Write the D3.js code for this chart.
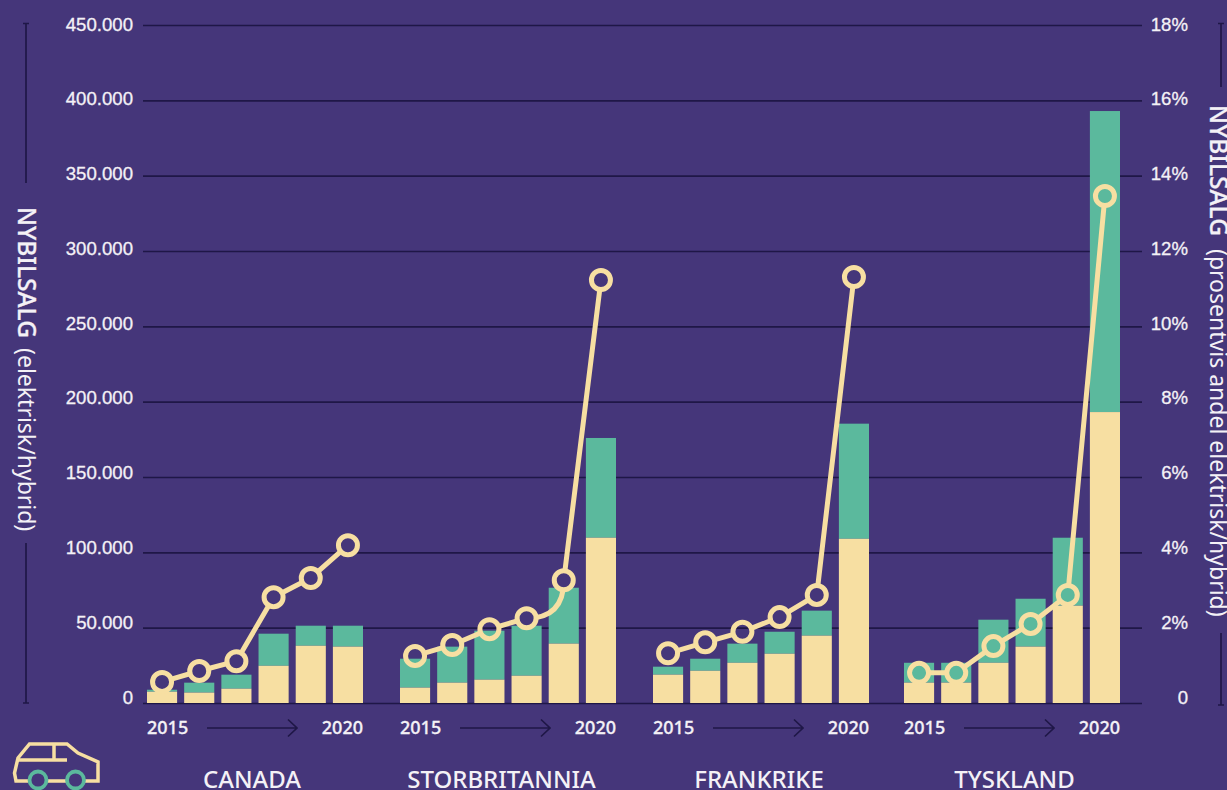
<!DOCTYPE html>
<html>
<head>
<meta charset="utf-8">
<script src="https://cdnjs.cloudflare.com/ajax/libs/d3/7.8.5/d3.min.js"></script>
<style>
	html, body { margin: 0; padding: 0; background: #45367a; overflow: hidden; }
	svg { display: block; font-family: 'Noto Sans', 'Open Sans', sans-serif; }
	text { fill: #f4f1f6; }
	.tick text { font-size: 18.6px; font-weight: 500; stroke: #f4f1f6; stroke-width: 0.3px; }
	.grid line { stroke: #1f1747; stroke-width: 1.6; }
	.rule { stroke: #1f1747; stroke-width: 1.7; fill: none; }
	.year { font-size: 18px; font-weight: 500; stroke: #f4f1f6; stroke-width: 0.3px; }
	.country { font-size: 24px; font-weight: 500; }
	.title { font-size: 24.5px; font-weight: 500; stroke: #f4f1f6; stroke-width: 0.3px; }
	.title tspan + tspan { font-size: 23px; font-weight: 400; stroke: none; }
	.car { fill: none; stroke: #f7dfa2; stroke-width: 3.5; }
</style>
</head>
<body>
<svg id="chart"></svg>
<script>
const countries = ['CANADA', 'STORBRITANNIA', 'FRANKRIKE', 'TYSKLAND']
const years = [2015, 2016, 2017, 2018, 2019, 2020]
const salesTicks = [0, 50000, 100000, 150000, 200000, 250000, 300000, 350000, 400000, 450000]
const shareTicks = [0, 2, 4, 6, 8, 10, 12, 14, 16, 18]

// cream part of each bar
const creamCanada = [7500, 6900, 9500, 24700, 38000, 37400]
const creamBritain = [10200, 13500, 15500, 18100, 39400, 109700]
const creamFrance = [18800, 21400, 26700, 32700, 44700, 109000]
const creamGermany = [13500, 13500, 26700, 37400, 64600, 193100]

// green part on top
const greenCanada = [1300, 6600, 9300, 21300, 13300, 13900]
const greenBritain = [19200, 23900, 32500, 33200, 37100, 66200]
const greenFrance = [5300, 8000, 12700, 14600, 16600, 76400]
const greenGermany = [13200, 13200, 28600, 31800, 45100, 199800]

// share of new car sales, percent
const shareCanada = [0.56, 0.85, 1.11, 2.81, 3.32, 4.19]
const shareBritain = [1.25, 1.54, 1.96, 2.25, 3.26, 11.23]
const shareFrance = [1.32, 1.61, 1.89, 2.28, 2.87, 11.31]
const shareGermany = [0.8, 0.8, 1.51, 2.1, 2.87, 13.46]

const cream = [creamCanada, creamBritain, creamFrance, creamGermany]
const green = [greenCanada, greenBritain, greenFrance, greenGermany]
const share = [shareCanada, shareBritain, shareFrance, shareGermany]

// the british line bends into this year, the others run straight
const bendInto = [null, 2019, null, null]

const WIDTH = 1227
const HEIGHT = 790
const COLOR_CREAM = '#f7dfa2'
const COLOR_GREEN = '#5bb99d'
const PANEL_WIDTH = 216

const svg = d3.select('#chart').attr('width', WIDTH).attr('height', HEIGHT)

const scale = {}
scale.sales = d3.scaleLinear().domain([0, 450000]).range([703, 25])
scale.share = d3.scaleLinear().domain([0, 18]).range([703, 25])
// tick labels sit a little tighter than the grid lines
scale.salesLabel = d3.scaleLinear().domain([0, 450000]).range([696.5, 23.5])
scale.shareLabel = d3.scaleLinear().domain([0, 18]).range([696.5, 23.5])
scale.panel = d3.scaleOrdinal().domain(countries).range([147, 400, 653, 904])
scale.label = d3.scaleOrdinal().domain(countries).range([252, 501.5, 759, 1014.5])
scale.year = d3.scaleBand().domain(years).range([0, PANEL_WIDTH]).paddingInner(0.19)

const thousands = d3.formatLocale({ decimal: ',', thousands: '.', grouping: [3], currency: ['', ''] }).format(',')

function setupAxes() {
	svg.append('g')
		.attr('class', 'grid')
		.attr('transform', 'translate(143, 0)')
		.call(d3.axisRight(scale.sales).tickValues(salesTicks).tickSize(999).tickFormat(''))
		.call(g => g.select('.domain').remove())

	svg.append('g')
		.attr('transform', 'translate(133, 0)')
		.call(d3.axisLeft(scale.salesLabel).tickValues(salesTicks).tickSize(0).tickPadding(0).tickFormat(thousands))
		.call(g => g.select('.domain').remove())
		.call(g => g.selectAll('text').attr('dy', '0.35em'))

	svg.append('g')
		.attr('transform', 'translate(1188, 0)')
		.call(d3.axisLeft(scale.shareLabel).tickValues(shareTicks).tickSize(0).tickPadding(0).tickFormat(d => d ? `${d}%` : '0'))
		.call(g => g.select('.domain').remove())
		.call(g => g.selectAll('text').attr('dy', '0.35em'))
}

function setupTitles() {
	const left = svg.append('text')
		.attr('class', 'title')
		.attr('transform', 'translate(18, 207) rotate(90)')
	left.append('tspan').text('NYBILSALG')
	left.append('tspan').attr('dx', 10).text('(elektrisk/hybrid)')

	const right = svg.append('text')
		.attr('class', 'title')
		.attr('transform', 'translate(1210, 105) rotate(90)')
	right.append('tspan').text('NYBILSALG')
	right.append('tspan').attr('dx', 13).text('(prosentvis andel elektrisk/hybrid)')

	// rules that run on from the axis titles
	const rules = [
		'M23,23.5H29M26,23.5V183',
		'M26,543V703M23,703H29',
		'M1218,23.5H1224M1221,23.5V87',
		'M1221,633V705M1218,705H1224'
	]
	svg.selectAll('.rule-title').data(rules).enter().append('path')
		.attr('class', 'rule rule-title')
		.attr('d', d => d)
}

function setupPanel(name, i) {
	const panel = svg.append('g')
		.attr('class', 'panel')
		.attr('transform', `translate(${scale.panel(name)}, 0)`)

	const rows = years.map((year, j) => ({
		year,
		cream: cream[i][j],
		green: green[i][j],
		share: share[i][j]
	}))

	const bar = panel.selectAll('.bar').data(rows).enter().append('g').attr('class', 'bar')

	bar.append('rect')
		.attr('x', d => scale.year(d.year))
		.attr('width', scale.year.bandwidth())
		.attr('y', d => scale.sales(d.cream + d.green))
		.attr('height', d => scale.sales(d.cream) - scale.sales(d.cream + d.green))
		.attr('fill', COLOR_GREEN)

	bar.append('rect')
		.attr('x', d => scale.year(d.year))
		.attr('width', scale.year.bandwidth())
		.attr('y', d => scale.sales(d.cream))
		.attr('height', d => scale.sales(0) - scale.sales(d.cream))
		.attr('fill', COLOR_CREAM)

	const cx = d => scale.year(d.year) + scale.year.bandwidth() / 2
	const cy = d => scale.share(d.share)

	// the line stops at the rings, they stay hollow
	const maskId = `rings-${i}`
	const mask = panel.append('mask')
		.attr('id', maskId)
		.attr('maskUnits', 'userSpaceOnUse')
		.attr('x', -20).attr('y', 0)
		.attr('width', PANEL_WIDTH + 40).attr('height', HEIGHT)
	mask.append('rect')
		.attr('x', -20).attr('y', 0)
		.attr('width', PANEL_WIDTH + 40).attr('height', HEIGHT)
		.attr('fill', '#fff')
	mask.selectAll('circle').data(rows).enter().append('circle')
		.attr('cx', cx).attr('cy', cy).attr('r', 9.5).attr('fill', '#000')

	const line = d3.path()
	rows.forEach((d, j) => {
		if (!j) line.moveTo(cx(d), cy(d))
		else if (d.year === bendInto[i]) line.quadraticCurveTo(cx(d), cy(rows[j - 1]), cx(d), cy(d))
		else line.lineTo(cx(d), cy(d))
	})

	panel.append('path')
		.attr('d', line.toString())
		.attr('fill', 'none')
		.attr('stroke', COLOR_CREAM)
		.attr('stroke-width', 5)
		.attr('mask', `url(#${maskId})`)

	panel.selectAll('.ring').data(rows).enter().append('circle')
		.attr('class', 'ring')
		.attr('cx', cx).attr('cy', cy).attr('r', 9.5)
		.attr('fill', 'none')
		.attr('stroke', COLOR_CREAM)
		.attr('stroke-width', 5)

	// years and arrow under the bars
	panel.append('text').attr('class', 'year').attr('x', 0).attr('y', 734).text(years[0])
	panel.append('text').attr('class', 'year')
		.attr('x', PANEL_WIDTH).attr('y', 734).attr('text-anchor', 'end')
		.text(years[years.length - 1])
	panel.append('path').attr('class', 'rule').attr('d', 'M60,728H150M141,719.5L150,728L141,736.5')

	svg.append('text').attr('class', 'country')
		.attr('x', scale.label(name)).attr('y', 788).attr('text-anchor', 'middle')
		.text(name)
}

function setupCar() {
	const car = svg.append('g')
	car.append('path').attr('class', 'car')
		.attr('d', 'M28,781H16L14.5,773L18,758L29.5,744H67L78,753L98,762V781H85M66,781H47M18,760H67M54,744V760')
	car.selectAll('circle').data([38, 75.5]).enter().append('circle')
		.attr('cx', d => d).attr('cy', 780).attr('r', 8.5)
		.attr('fill', 'none').attr('stroke', COLOR_GREEN).attr('stroke-width', 3.8)
}

function init() {
	setupAxes()
	setupTitles()
	countries.forEach(setupPanel)
	setupCar()
}

init()
</script>
</body>
</html>
